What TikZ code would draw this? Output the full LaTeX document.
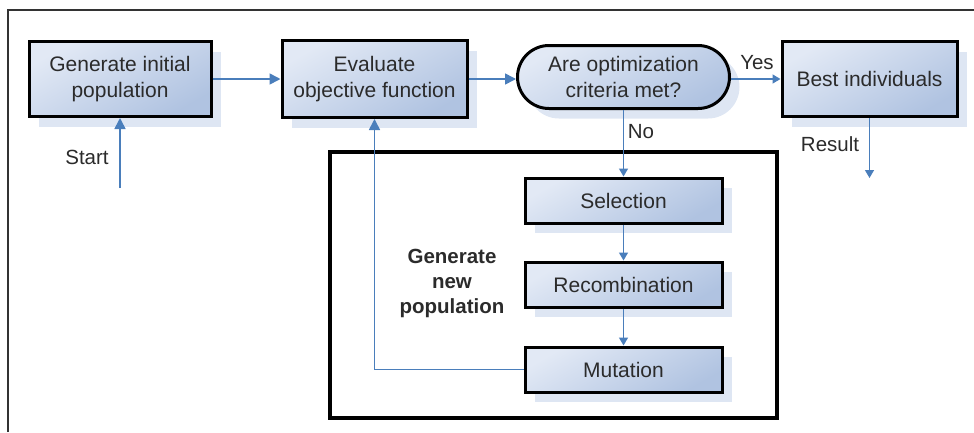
\documentclass[tikz,border=0pt]{standalone}
\usepackage{fontspec}
\setmainfont{Liberation Sans}
\usepackage{xcolor}
\usepackage{tikz}
\usetikzlibrary{arrows.meta,positioning,shapes.misc,shadows}

\definecolor{boxlight}{HTML}{E2E9F5}
\definecolor{boxdark}{HTML}{B0C3E1}
\definecolor{shadowblue}{HTML}{DEE6F3}
\definecolor{flowblue}{HTML}{4A7EBB}
\definecolor{inktext}{HTML}{2B2B2B}

\begin{document}
\begin{tikzpicture}[x=1pt, y=-1pt,
    stage/.style={draw=black, line width=3pt, rectangle, minimum width=#1, minimum height=75pt,
                  inner sep=2pt, top color=boxlight, bottom color=boxdark, shading angle=30,
                  drop shadow={shadow xshift=10pt, shadow yshift=-10pt, fill=shadowblue, opacity=1},
                  font=\fontsize{21}{26}\selectfont, text=inktext, align=center},
    substage/.style={stage=197pt, minimum height=45pt},
    decision/.style={stage=216pt, rounded rectangle, minimum height=63pt},
    flow/.style={-{Triangle[length=11pt, width=11pt]}, line width=1.6pt, color=flowblue},
    flowsmall/.style={-{Triangle[length=8pt, width=9pt]}, line width=1.4pt, color=flowblue},
    note/.style={font=\fontsize{20.5}{25}\selectfont, text=inktext, align=center},
    frame/.style={draw=black, line width=3.5pt}
]
\useasboundingbox (0,0) rectangle (974,432);

%% outer frame (top and left edges only)
\draw[line width=1.2pt, color=black!80] (8,432) -- (8,10) -- (974,10);

%% main row
\node[stage=182pt] (init) at (120,79) {Generate initial\\population};
\node[stage=185pt, minimum height=77pt] (eval) at (374.5,79) {Evaluate\\objective function};
\node[decision] (crit) at (623.5,77) {Are optimization\\criteria met?};
\node[stage=175pt] (best) at (869.5,79) {Best individuals};

%% new population block
\node[frame, minimum width=447pt, minimum height=266pt] (newpop) at (553.5,285) {};
\node[note, font=\fontsize{20.5}{25}\selectfont\bfseries] (newlbl) at (452,283) {Generate\\new\\population};
\node[substage] (sel) at (623.5,200.5) {Selection};
\node[substage] (rec) at (623.5,284.5) {Recombination};
\node[substage] (mut) at (623.5,369.5) {Mutation};

%% loose ends
\coordinate (startpt) at (120,188);
\coordinate (resultpt) at (869.5,178);

%% connectors
\draw[flow] (startpt) -- (init.south);
\draw[flow] (init.east) -- (eval.west);
\draw[flow] (eval.east) -- (crit.west |- eval.east);
\draw[flowsmall] (crit.east |- best.west) -- (best.west);
\draw[flowsmall] (best.south) -- (resultpt);
\draw[flowsmall] (crit.south) -- (sel.north);
\draw[flowsmall] (sel.south) -- (rec.north);
\draw[flowsmall] (rec.south) -- (mut.north);
\draw[flow] (mut.west) -| (eval.south);

%% labels
\node[note] (startlbl) at (87,157) {Start};
\node[note] (yeslbl) at (757,63) {Yes};
\node[note] (nolbl) at (641,132) {No};
\node[note] (resultlbl) at (830,144) {Result};

\end{tikzpicture}
\end{document}
